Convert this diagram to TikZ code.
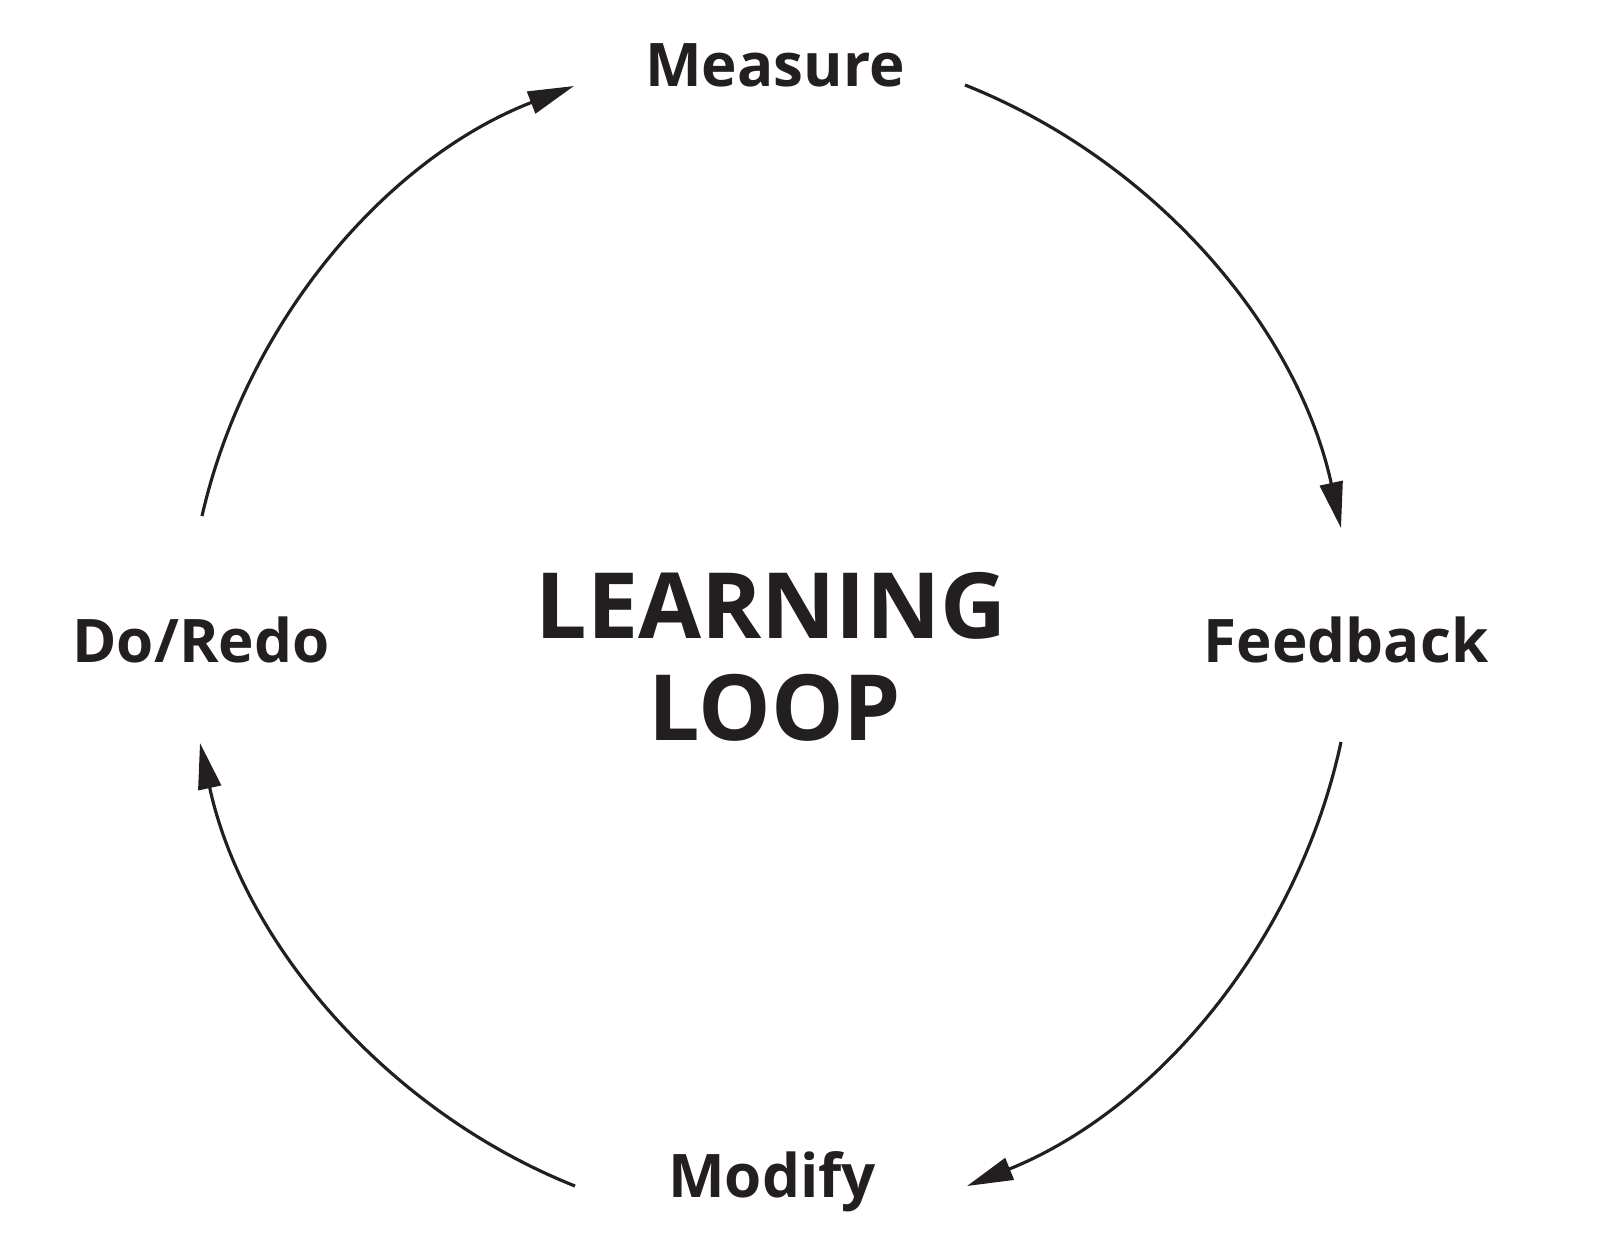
\documentclass[tikz,border=0pt]{standalone}
\usepackage{fontspec}
\setmainfont{Open Sans}
\usetikzlibrary{arrows.meta}
\definecolor{loopink}{RGB}{35,31,32}

\begin{document}
\begin{tikzpicture}[
    steplabel/.style={anchor=base, text=loopink, font=\fontsize{17.1}{20}\selectfont\bfseries, inner sep=0pt},
    titlelabel/.style={anchor=base, text=loopink, font=\fontsize{26}{30}\selectfont\bfseries, inner sep=0pt},
    loopline/.style={draw=loopink, line width=0.9pt, -{Triangle[length=4.6mm,width=2.3mm]}}
]
    \useasboundingbox (0,0) rectangle (16.24,-12.40);

    \node[steplabel] (measure) at (7.75,-0.867) {Measure};
    \node[steplabel] (feedback) at (13.46,-6.62) {Feedback};
    \node[steplabel] (modify) at (7.72,-11.97) {Modify};
    \node[steplabel] (doredo) at (2.01,-6.62) {Do/Redo};

    \node[titlelabel] (learning) at (7.71,-6.38) {LEARNING};
    \node[titlelabel] (loop) at (7.75,-7.40) {LOOP};

    % arc ends
    \coordinate (measure-out) at (9.65,-0.85);
    \coordinate (feedback-in) at (13.41,-5.28);
    \coordinate (feedback-out) at (13.41,-7.42);
    \coordinate (modify-in) at (9.67,-11.86);
    \coordinate (modify-out) at (5.75,-11.86);
    \coordinate (doredo-in) at (2.00,-7.43);
    \coordinate (doredo-out) at (2.02,-5.16);
    \coordinate (measure-in) at (5.74,-0.86);

    \draw[loopline] (measure-out) to[bend left=28, looseness=0.9] (feedback-in);
    \draw[loopline] (feedback-out) to[bend left=28, looseness=0.9] (modify-in);
    \draw[loopline] (modify-out) to[bend left=28, looseness=0.9] (doredo-in);
    \draw[loopline] (doredo-out) to[bend left=28, looseness=0.9] (measure-in);
\end{tikzpicture}
\end{document}
